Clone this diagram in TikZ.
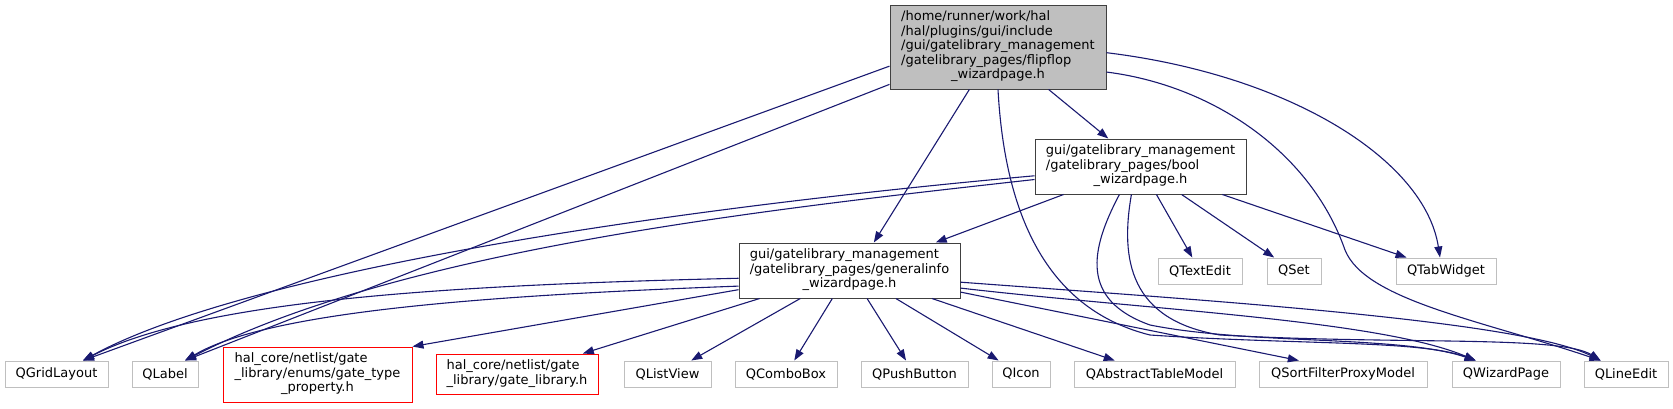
\documentclass[tikz,border=0pt]{standalone}
\usepackage{fontspec}
\setmainfont{DejaVu Sans}
\usepackage{tikz}
\usetikzlibrary{arrows.meta}
\definecolor{edgeblue}{HTML}{191970}
\definecolor{boxgray}{HTML}{BFBFBF}
\tikzset{
  incnode/.style={draw=black!75,fill=white,line width=1pt,inner sep=0pt,font=\fontsize{13}{14.5}\selectfont},
  curnode/.style={incnode,fill=boxgray},
  extnode/.style={incnode,draw=boxgray,minimum height=26pt},
  misnode/.style={incnode,draw=red},
  incedge/.style={-{Triangle[length=11pt,width=8pt]},line width=1.1pt,edgeblue},
}
\newcommand{\pathlines}[2]{\begin{tabular}{@{}l@{}}#1\\\multicolumn{1}{@{}c@{}}{#2}\end{tabular}}

\begin{document}
\begin{tikzpicture}[x=1pt,y=-1pt]
  \useasboundingbox (0,0) rectangle (1673,408);
  \node[curnode,minimum width=216pt,minimum height=84pt] (nFlip) at (998,47) {\pathlines{/home/runner/work/hal\\/hal/plugins/gui/include\\/gui/gatelibrary\_management\\/gatelibrary\_pages/flipflop}{\_wizardpage.h}};
  \node[incnode,minimum width=211pt,minimum height=55pt] (nBool) at (1140.5,166.5) {\pathlines{gui/gatelibrary\_management\\/gatelibrary\_pages/bool}{\_wizardpage.h}};
  \node[incnode,minimum width=221pt,minimum height=55pt] (nGen) at (849.5,270.5) {\pathlines{gui/gatelibrary\_management\\/gatelibrary\_pages/generalinfo}{\_wizardpage.h}};
  \node[extnode,minimum width=84pt] (nText) at (1200,271) {QTextEdit};
  \node[extnode,minimum width=54pt] (nSet) at (1294,271) {QSet};
  \node[extnode,minimum width=100pt] (nTab) at (1446,271) {QTabWidget};
  \node[extnode,minimum width=103pt] (nGrid) at (56.5,374) {QGridLayout};
  \node[extnode,minimum width=66pt] (nLabel) at (165,374) {QLabel};
  \node[misnode,minimum width=189pt,minimum height=55pt] (nType) at (317.5,374.5) {\pathlines{hal\_core/netlist/gate\\\_library/enums/gate\_type}{\_property.h}};
  \node[misnode,minimum width=162pt,minimum height=40pt] (nLib) at (517,374) {\pathlines{hal\_core/netlist/gate}{\_library/gate\_library.h}};
  \node[extnode,minimum width=87pt] (nList) at (667.5,374) {QListView};
  \node[extnode,minimum width=102pt] (nCombo) at (786,374) {QComboBox};
  \node[extnode,minimum width=107pt] (nPush) at (914.5,374) {QPushButton};
  \node[extnode,minimum width=58pt] (nIcon) at (1021,374) {QIcon};
  \node[extnode,minimum width=161pt] (nTable) at (1154.5,374) {QAbstractTableModel};
  \node[extnode,minimum width=168pt] (nSort) at (1343,374) {QSortFilterProxyModel};
  \node[extnode,minimum width=108pt] (nWizard) at (1506,374) {QWizardPage};
  \node[extnode,minimum width=84pt] (nLine) at (1626,374) {QLineEdit};
  \draw[incedge] (nFlip.190.5) -- (nGrid.27);
  \draw[incedge] (nFlip.199.4) -- (nLabel.34.4);
  \draw[incedge] (nFlip.236.3) -- (nGen.49.5);
  \draw[incedge] (nFlip.320) -- (nBool.139.8);
  \draw[incedge] (nFlip.south) .. controls (1005,220) and (1050,310) .. (1150,335) .. controls (1300,345) and (1420,340) .. (nWizard.156.6);
  \draw[incedge] (nFlip.347) .. controls (1210,85) and (1310,150) .. (1345,250) .. controls (1365,300) and (1480,320) .. (nLine.152.5);
  \draw[incedge] (nFlip.357.3) .. controls (1290,75) and (1425,160) .. (nTab.114.8);
  \draw[incedge] (nBool.200.3) -- (nGen.18.2);
  \draw[incedge] (nBool.185.7) .. controls (600,215) and (230,280) .. (nGrid.27);
  \draw[incedge] (nBool.187.8) .. controls (760,210) and (400,250) .. (nLabel.34.4);
  \draw[incedge] (nBool.233.3) .. controls (1090,250) and (1080,300) .. (1150,325) .. controls (1250,345) and (1400,335) .. (nWizard.156.6);
  \draw[incedge] (nBool.252.8) .. controls (1120,260) and (1130,320) .. (1220,335) .. controls (1400,345) and (1560,335) .. (nLine.152.5);
  \draw[incedge] (nBool) -- (nText);
  \draw[incedge] (nBool) -- (nSet);
  \draw[incedge] (nBool) -- (nTab);
  \draw[incedge] (nGen.184.4) .. controls (450,285) and (200,300) .. (nGrid.27);
  \draw[incedge] (nGen.188.5) .. controls (500,295) and (270,310) .. (nLabel.34.4);
  \draw[incedge] (nGen) -- (nType.north east);
  \draw[incedge] (nGen) -- (nLib);
  \draw[incedge] (nGen) -- (nList);
  \draw[incedge] (nGen) -- (nCombo);
  \draw[incedge] (nGen) -- (nPush);
  \draw[incedge] (nGen) -- (nIcon);
  \draw[incedge] (nGen) -- (nTable);
  \draw[incedge] (nGen.349) -- (nSort.163.5);
  \draw[incedge] (nGen.351.5) .. controls (1150,310) and (1380,320) .. (nWizard.156.6);
  \draw[incedge] (nGen.354.6) .. controls (1200,300) and (1520,320) .. (nLine.152.5);
\end{tikzpicture}
\end{document}
